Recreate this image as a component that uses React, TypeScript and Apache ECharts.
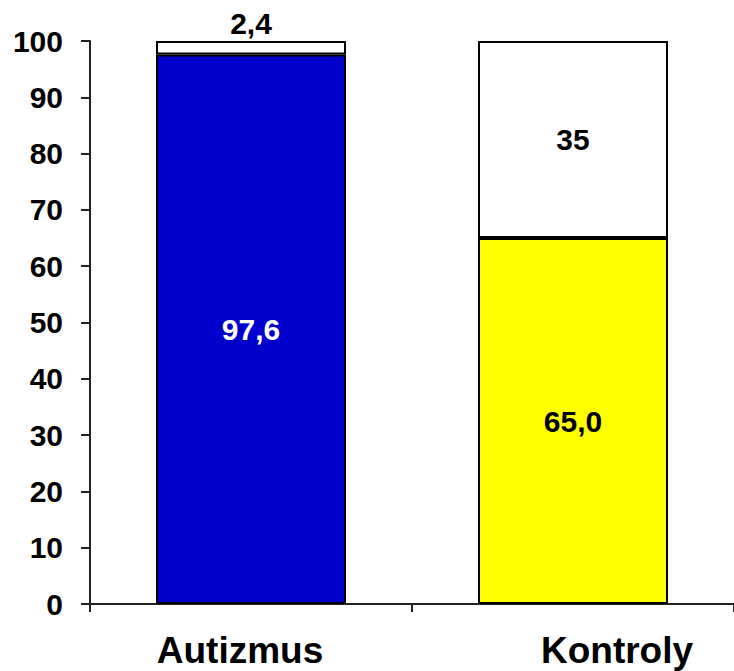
import React, { useEffect, useRef } from "react";
import * as echarts from "echarts";

const categories = ["Autizmus", "Kontroly"];
const mainValues = [97.6, 65.0];
const mainLabels = ["97,6", "65,0"];
const mainColors = ["#0000CC", "#FFFF00"];
const mainLabelColors = ["#FFFFFF", "#000000"];
const restValues = [2.4, 35];
const restLabels = ["2,4", "35"];
const yTicks = { min: 0, max: 100, interval: 10 };

const FONT = '"Liberation Sans", Arial, sans-serif';

export default function App() {
  const ref = useRef<HTMLDivElement>(null);
  useEffect(() => {
    if (!ref.current) return;
    const chart = echarts.init(ref.current, null, { renderer: "svg" });
    const catText = {
      color: "#000",
      fontSize: 37,
      fontWeight: "bold" as const,
      fontFamily: FONT,
    };
    chart.setOption({
      animation: false,
      backgroundColor: "#FFFFFF",
      grid: { left: 90, right: -4, top: 41, bottom: 67, containLabel: false },
      xAxis: {
        type: "category",
        data: categories,
        axisLine: { lineStyle: { color: "#222", width: 2 } },
        axisTick: { show: true, length: 8, lineStyle: { color: "#222", width: 2 } },
        axisLabel: {
          margin: 28,
          ...catText,
          formatter: (v: string) => (v === categories[0] ? `{a|${v}}` : `{b|${v}}`),
          rich: {
            a: { ...catText, padding: [0, 22, 0, 0] },
            b: { ...catText, padding: [0, 0, 0, 88] },
          },
        },
      },
      yAxis: {
        type: "value",
        min: yTicks.min,
        max: yTicks.max,
        interval: yTicks.interval,
        splitLine: { show: false },
        axisLine: { show: true, lineStyle: { color: "#222", width: 2 } },
        axisTick: { show: true, length: 9, lineStyle: { color: "#222", width: 2 } },
        axisLabel: {
          margin: 27,
          color: "#000",
          fontSize: 30,
          fontWeight: "bold",
          fontFamily: FONT,
        },
      },
      series: [
        {
          type: "bar",
          stack: "total",
          barWidth: 190,
          data: mainValues.map((v, i) => ({
            value: v,
            itemStyle: { color: mainColors[i], borderColor: "#000", borderWidth: 2 },
            label: {
              show: true,
              position: "inside",
              formatter: mainLabels[i],
              color: mainLabelColors[i],
              fontSize: 30,
              fontWeight: "bold",
              fontFamily: FONT,
            },
          })),
        },
        {
          type: "bar",
          stack: "total",
          barWidth: 190,
          data: restValues.map((v, i) => ({
            value: v,
            itemStyle: { color: "#FFFFFF", borderColor: "#000", borderWidth: 2 },
            label: {
              show: true,
              position: i === 0 ? "top" : "inside",
              distance: 3,
              formatter: restLabels[i],
              color: "#000",
              fontSize: 30,
              fontWeight: "bold",
              fontFamily: FONT,
            },
          })),
        },
      ],
    });
    return () => chart.dispose();
  }, []);
  return (
    <div
      ref={ref}
      style={{ position: "fixed", left: 0, top: 0, width: 734, height: 671 }}
    />
  );
}
